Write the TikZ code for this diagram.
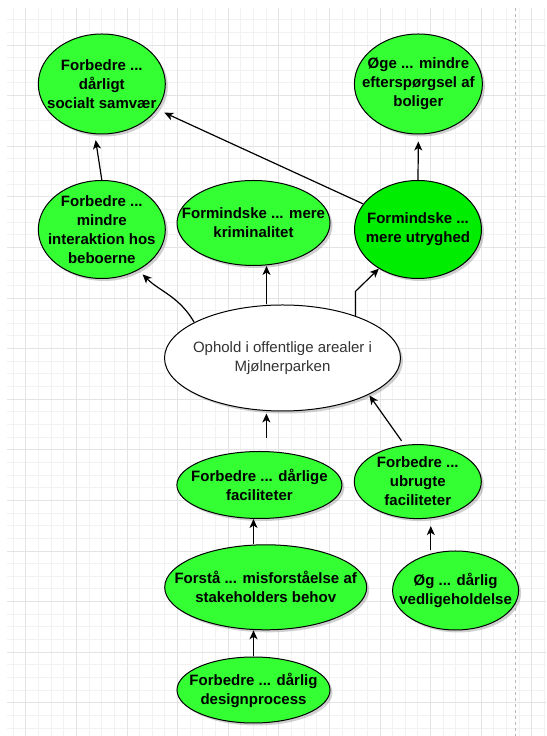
\documentclass[tikz,border=0pt]{standalone}
\usepackage{fontspec}
\setmainfont{Liberation Sans}
\usepackage{tikz}
\usetikzlibrary{shapes.geometric,arrows.meta,shadows}

\definecolor{lysgroen}{HTML}{33FF33}
\definecolor{klargroen}{HTML}{00EC00}
\definecolor{gitter}{HTML}{F2F2F2}
\definecolor{gitterstreg}{HTML}{E4E4E4}
\definecolor{tekstgraa}{HTML}{333333}

\begin{document}
\begin{tikzpicture}[
            x=1pt, y=1pt,
            boble/.style={
                    ellipse,
                    draw=black,
                    line width=1pt,
                    fill=lysgroen,
                    inner sep=0pt,
                    drop shadow={shadow xshift=2.5pt, shadow yshift=-2.5pt, opacity=.3, fill=black!60}
                },
            tekst/.style={
                    font=\bfseries\fontsize{15}{19}\selectfont,
                    align=center,
                    inner sep=0pt
                },
            pil/.style={
                    -{Stealth[length=9pt,width=8pt,inset=2.5pt]},
                    line width=1.2pt
                }
        ]
        \useasboundingbox (0,0) rectangle (546,736);
        \fill[white] (0,0) rectangle (546,736);

        % baggrundsgitter
        \foreach \gx in {13.05,25.7,...,546}
            \draw[gitter, line width=.8pt] (\gx,0) -- (\gx,728);
        \foreach \gy in {19.65,32.3,...,736}
            \draw[gitter, line width=.8pt] (7,{736-\gy}) -- (546,{736-\gy});
        \foreach \gx in {25.7,76.3,...,546}
            \draw[gitterstreg, line width=.8pt] (\gx,0) -- (\gx,728);
        \foreach \gy in {45,95.6,...,736}
            \draw[gitterstreg, line width=.8pt] (7,{736-\gy}) -- (546,{736-\gy});
        \draw[gray!55, line width=.8pt, dash pattern=on 3pt off 3pt] (515,728) -- (515,0);

        \node[boble, minimum width=127pt, minimum height=100pt,
            label={[tekst]center:Forbedre ...\\dårligt\\socialt samvær}] (socialt) at (101.8,652) {};
        \node[boble, minimum width=128pt, minimum height=100pt,
            label={[tekst]center:Øge ... mindre\\efterspørgsel af\\boliger}] (boliger) at (418.4,652) {};
        \node[boble, minimum width=127pt, minimum height=98pt,
            label={[tekst]center:Forbedre ...\\mindre\\interaktion hos\\beboerne}] (interaktion) at (101.8,506.5) {};
        \node[boble, minimum width=153pt, minimum height=85pt,
            label={[tekst]center:Formindske ... mere\\kriminalitet}] (kriminalitet) at (253.5,513) {};
        \node[boble, fill=klargroen, minimum width=127pt, minimum height=98pt,
            label={[tekst]center:Formindske ...\\mere utryghed}] (utryghed) at (418,506.5) {};
        \node[boble, fill=white, minimum width=236pt, minimum height=106pt,
            label={[tekst, font=\fontsize{15}{19}\selectfont, text=tekstgraa]center:Ophold i offentlige arealer i\\Mjølnerparken}] (ophold) at (282.5,378) {};
        \node[boble, minimum width=165pt, minimum height=67pt,
            label={[tekst]center:Forbedre ... dårlige\\faciliteter}] (faciliteter) at (259.4,251) {};
        \node[boble, minimum width=127pt, minimum height=74pt,
            label={[tekst]center:Forbedre ...\\ubrugte\\faciliteter}] (ubrugte) at (417.8,254.4) {};
        \node[boble, minimum width=202pt, minimum height=85pt,
            label={[tekst]center:Forstå ... misforståelse af\\stakeholders behov}] (stakeholders) at (265.7,148.7) {};
        \node[boble, minimum width=126pt, minimum height=79pt,
            label={[tekst]center:Øg ... dårlig\\vedligeholdelse}] (vedligehold) at (455.6,145.5) {};
        \node[boble, minimum width=153pt, minimum height=66pt,
            label={[tekst]center:Forbedre ... dårlig\\designprocess}] (design) at (253.5,46) {};

        \coordinate (knaek) at ([xshift=13pt]ubrugte.south);

        \draw[pil, shorten >=6pt] (interaktion.north) -- (socialt.262);
        \draw[pil, shorten >=8pt] (utryghed.155) -- (socialt);
        \draw[pil, shorten >=7pt] (utryghed.north) -- (boliger.south);
        \draw[pil, shorten >=6pt] (ophold.158) to[out=120, in=-45] (interaktion.-48);
        \draw[pil] ([xshift=-16pt]ophold.north) -- ([xshift=-16pt]ophold.north |- kriminalitet.south);
        \draw[pil] (ophold.30) -- ++(0,24.5) -- (utryghed.225);
        \draw[pil, shorten <=13pt, shorten >=2pt] ([xshift=7pt]faciliteter.north) -- ([xshift=7pt]faciliteter.north |- ophold.south);
        \draw[pil, shorten <=5pt, shorten >=1pt] (ubrugte.110) -- (ophold.-23);
        \draw[pil] (stakeholders.north -| design) -- (faciliteter.south -| design);
        \draw[pil, shorten >=7pt] (knaek |- vedligehold.north) -- (knaek);
        \draw[pil] (design.north) -- (stakeholders.south -| design);
\end{tikzpicture}
\end{document}
